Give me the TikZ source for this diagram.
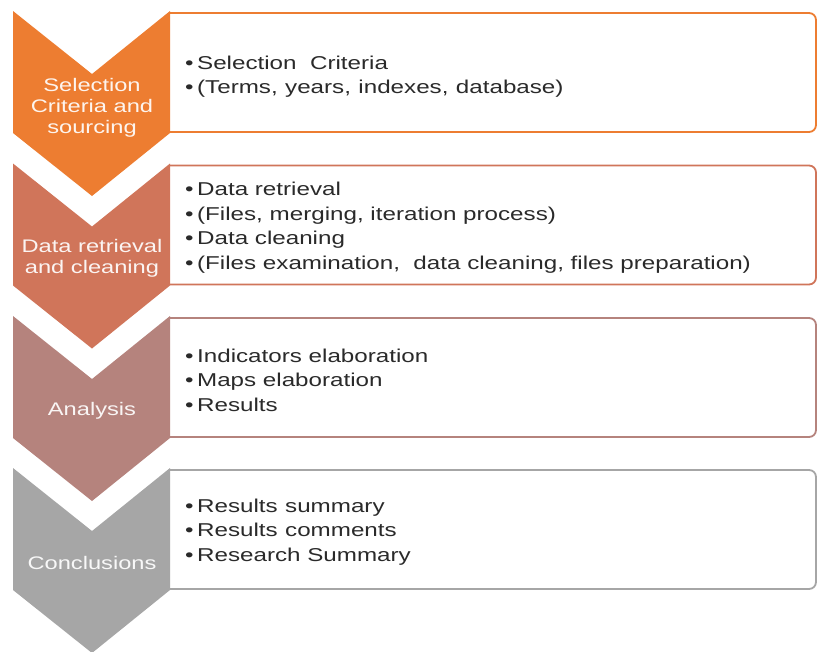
\documentclass[tikz,border=0pt]{standalone}
\usepackage{fontspec}
\setmainfont[FakeStretch=1.3]{Liberation Sans}
\definecolor{cone}{HTML}{ED7D31}
\definecolor{ctwo}{HTML}{D0755A}
\definecolor{cthree}{HTML}{B5837D}
\definecolor{cfour}{HTML}{A6A6A6}
\definecolor{txt}{HTML}{2A2A2A}
\tikzset{
  boxline/.style={draw=#1, line width=1.8pt, fill=white},
  chevtext/.style={align=center, text=white, text opacity=0.92, font=\fontsize{18.2}{21}\selectfont, inner sep=0pt},
  boxtext/.style={align=left, text=txt, font=\fontsize{18.6}{24.5}\selectfont, inner sep=0pt, anchor=west},
}
\newcommand\mystage[6]{%
  \pgfmathsetmacro\stT{#1}%
  \pgfmathsetmacro\stN{#1+63}%
  \pgfmathsetmacro\stS{#1+122}%
  \pgfmathsetmacro\stP{#1+185}%
  \pgfmathsetmacro\stBT{#1+2}%
  \pgfmathsetmacro\stBB{#1+121}%
  \pgfmathsetmacro\stM{#1+95+#6}%
  \pgfmathsetmacro\stBM{#1+64+#6}%
  \draw[boxline=#2] (170,\stBT) [rounded corners=7pt] -- (816,\stBT) -- (816,\stBB) [sharp corners] -- (170,\stBB);
  \fill[#2] (13,\stT) -- (92,\stN) -- (170,\stT) -- (170,\stS) -- (92,\stP) -- (13,\stS) -- cycle;
  \node[chevtext] (#3c) at (92,\stM) {#4};
  \node[boxtext] (#3b) at (185,\stBM) {#5};
}
\newcommand\bul{\textbullet\hspace{3.5pt}}
\newcommand\wsp{\hspace{0.4em}}
\begin{document}
\begin{tikzpicture}[x=1pt,y=-1pt]
\useasboundingbox (0,0) rectangle (818,651);
\mystage{11}{cone}{s1}{Selection\\Criteria and\\sourcing}{\bul Selection\ \ Criteria\\\bul(Terms,\wsp years,\wsp indexes,\wsp database)}{1.5}
\mystage{163.5}{ctwo}{s2}{Data retrieval\\and cleaning}{\bul Data retrieval\\\bul(Files, merging, iteration process)\\\bul Data cleaning\\\bul(Files examination,\ \ data cleaning, files preparation)}{0}
\mystage{316}{cthree}{s3}{Analysis}{\bul Indicators elaboration\\\bul Maps elaboration\\\bul Results}{0}
\mystage{468}{cfour}{s4}{Conclusions}{\bul Results\wsp summary\\\bul Results\wsp comments\\\bul Research Summary}{0}
\end{tikzpicture}
\end{document}
